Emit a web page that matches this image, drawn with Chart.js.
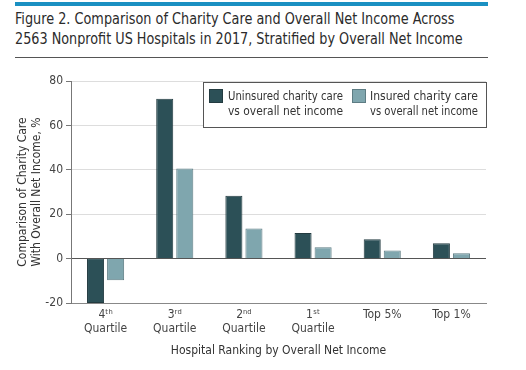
<!DOCTYPE html>
<html>
<head>
<meta charset="utf-8">
<script src="https://cdn.jsdelivr.net/npm/chart.js@4"></script>
<style>
    body { margin: 0; width: 526px; height: 370px; background: #fff; overflow: hidden; position: relative; }
    .top-bar { position: absolute; left: 15px; top: 2px; width: 473px; height: 4px; background: #1a90c2; }
    .title { position: absolute; left: 15px; top: 9px; font: 15px "DejaVu Sans Condensed", sans-serif; color: #2b2b2b; line-height: 20px; }
    .title span { display: inline-block; white-space: nowrap; transform-origin: 0 0; }
    .rule { position: absolute; left: 15px; top: 57px; width: 473px; height: 1px; background: #555; }
    canvas { position: absolute; left: 0; top: 0; }
</style>
</head>
<body>
<div class="top-bar"></div>
<div class="title">
    <span data-fit="440">Figure 2. Comparison of Charity Care and Overall Net Income Across</span><br>
    <span data-fit="448">2563 Nonprofit US Hospitals in 2017, Stratified by Overall Net Income</span>
</div>
<div class="rule"></div>
<canvas id="chart" width="526" height="370"></canvas>
<script>
    const FONT = '"DejaVu Sans Condensed", sans-serif';

    const categories = [
        ["4ᵗʰ", "Quartile"],
        ["3ʳᵈ", "Quartile"],
        ["2ⁿᵈ", "Quartile"],
        ["1ˢᵗ", "Quartile"],
        "Top 5%",
        "Top 1%"
    ];
    const uninsuredValues = [-20, 72, 28.3, 11.5, 8.7, 6.9];
    const insuredValues = [-9.8, 40.6, 13.6, 5.1, 3.6, 2.4];
    const seriesLabels = [
        ["Uninsured charity care", "vs overall net income"],
        ["Insured charity care", "vs overall net income"]
    ];

    // squeeze the title lines to the width they have in the figure
    document.querySelectorAll("[data-fit]").forEach(span => {
        const target = Number(span.dataset.fit);
        span.style.transform = "scaleX(" + (target / span.offsetWidth) + ")";
    });

    // legend box drawn inside the plot, top right
    const boxLegend = {
        id: "boxLegend",
        afterDatasetsDraw(chart) {
            const ctx = chart.ctx;
            const x = 203, y = 82, w = 283, h = 45;
            ctx.save();
            ctx.fillStyle = "#fff";
            ctx.fillRect(x, y, w, h);
            ctx.strokeStyle = "#555";
            ctx.lineWidth = 1;
            ctx.strokeRect(x + 0.5, y + 0.5, w, h);

            const items = [{sx: 209, tx: 228, w: 115}, {sx: 352, tx: 370, w: 108}];
            chart.data.datasets.forEach((dataset, i) => {
                const it = items[i];
                ctx.fillStyle = dataset.backgroundColor;
                ctx.fillRect(it.sx, 89, 14, 14);
                ctx.strokeStyle = dataset.borderColor;
                ctx.strokeRect(it.sx + 0.5, 89.5, 13, 13);

                ctx.fillStyle = "#333";
                ctx.font = "12px " + FONT;
                ctx.textBaseline = "middle";
                ctx.textAlign = "left";
                seriesLabels[i].forEach((line, j) => ctx.fillText(line, it.tx, 97 + j * 15, it.w));
            });
            ctx.restore();
        }
    };

    new Chart(document.getElementById("chart"), {
        type: "bar",
        data: {
            labels: categories,
            datasets: [
                {
                    label: seriesLabels[0].join(" "),
                    data: uninsuredValues,
                    backgroundColor: "#2c5057",
                    borderColor: "#233b40",
                    borderWidth: 1
                },
                {
                    label: seriesLabels[1].join(" "),
                    data: insuredValues,
                    backgroundColor: "#7fa6ae",
                    borderColor: "#5d7c83",
                    borderWidth: 1
                }
            ]
        },
        options: {
            responsive: false,
            animation: false,
            categoryPercentage: 0.58,
            barPercentage: 0.85,
            layout: {padding: {top: 81, right: 40, bottom: 12, left: 0}},
            plugins: {
                legend: {display: false},
                tooltip: {enabled: false}
            },
            scales: {
                x: {
                    afterFit: scale => { scale.height = 55; },
                    grid: {display: false, drawTicks: false},
                    border: {color: "#888"},
                    ticks: {
                        color: "#444",
                        padding: 5,
                        maxRotation: 0,
                        autoSkip: false,
                        font: {family: FONT, size: 12, lineHeight: 1.17}
                    },
                    title: {
                        display: true,
                        text: "Hospital Ranking by Overall Net Income",
                        color: "#333",
                        padding: {top: 1, bottom: 0},
                        font: {family: FONT, size: 12}
                    }
                },
                y: {
                    min: -20,
                    max: 80,
                    afterFit: scale => { scale.width = 71; },
                    border: {color: "#777"},
                    grid: {
                        color: ctx => ctx.tick.value === 0 ? "#555" : (ctx.tick.value === -20 ? "#888" : "#ddd"),
                        tickColor: "#777",
                        tickLength: 5
                    },
                    ticks: {
                        stepSize: 20,
                        color: "#444",
                        padding: 3,
                        font: {family: FONT, size: 12}
                    },
                    title: {
                        display: true,
                        text: ["Comparison of Charity Care", "With Overall Net Income, %"],
                        color: "#333",
                        padding: {top: 16, bottom: 6},
                        font: {family: FONT, size: 12, lineHeight: 1.17}
                    }
                }
            }
        },
        plugins: [boxLegend]
    });
</script>
</body>
</html>
